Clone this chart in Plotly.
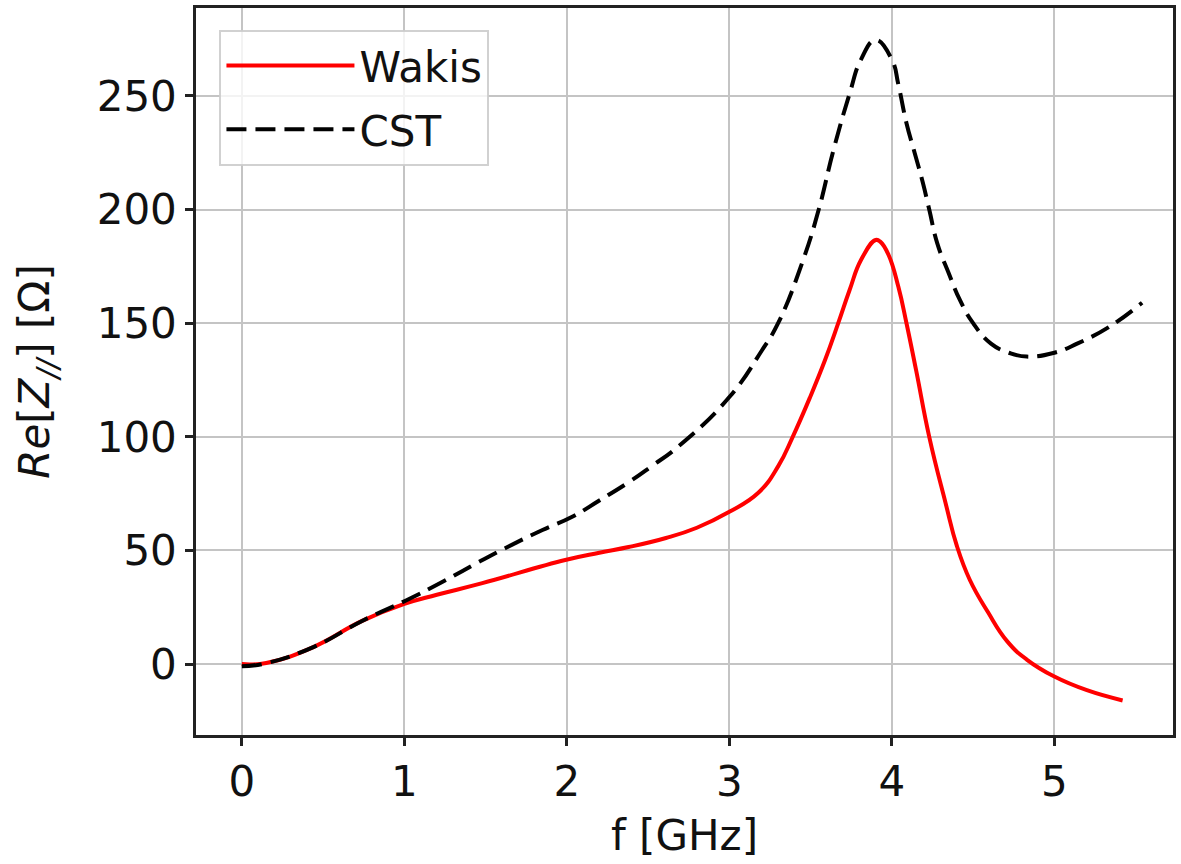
import plotly.graph_objects as go

# Frequency (GHz) and real part of the longitudinal impedance (Ohm)
f_wakis = [0.0, 0.15, 0.44, 0.74, 1.0, 1.2, 1.48, 1.99, 2.2, 2.38, 2.61, 2.8, 3.0,
           3.18, 3.3, 3.39, 3.5, 3.59, 3.67, 3.74, 3.81, 3.9, 3.93, 3.98, 4.04,
           4.09, 4.15, 4.23, 4.33, 4.4, 4.48, 4.59, 4.71, 4.83, 5.0, 5.2, 5.42]
z_wakis = [0, 0.5, 7.5, 19, 26.5, 30.5, 35.6, 45.8, 49, 51.5, 55.5, 60, 67,
           75.5, 87, 100, 118, 134, 150, 164.6, 177.8, 186.6, 185.8, 180, 166,
           150, 129, 100, 71, 52, 37, 23, 10, 2, -5.5, -11.5, -16]

f_cst = [0.0, 0.15, 0.44, 0.74, 1.01, 1.23, 1.46, 1.62, 1.85, 2.03, 2.2, 2.38,
         2.52, 2.69, 3.0, 3.2, 3.3, 3.45, 3.55, 3.64, 3.74, 3.81, 3.9, 4.0,
         4.04, 4.09, 4.14, 4.19, 4.23, 4.28, 4.35, 4.42, 4.5, 4.61, 4.72, 4.83,
         5.0, 5.14, 5.34, 5.54]
z_cst = [-1, 0.4, 7.5, 19, 28, 36, 45, 51, 59, 64.7, 72, 80,
         87, 96, 117.5, 138, 150, 177, 200, 226, 251, 266, 274.6, 266,
         255, 238, 225, 212, 200, 185, 172, 160, 150, 141, 137, 135.3,
         137, 141, 148.5, 159]

x_ticks = [0, 1, 2, 3, 4, 5]
y_ticks = [0, 50, 100, 150, 200, 250]

FONT = "DejaVu Sans"

fig = go.Figure()
fig.add_trace(go.Scatter(
    x=f_wakis, y=z_wakis, mode="lines", name="Wakis", legendgroup="wakis",
    line=dict(color="#ff0000", width=4, shape="spline", smoothing=1.3),
))
fig.add_trace(go.Scatter(
    x=f_cst, y=z_cst, mode="lines", name="CST", legendgroup="cst",
    line=dict(color="#000000", width=4, dash="20px,9px", shape="spline", smoothing=1.3),
))

axis_common = dict(
    showline=True, linecolor="#222222", linewidth=2.5, mirror=True,
    ticks="outside", ticklen=8, tickwidth=2.5, tickcolor="#222222",
    showgrid=True, gridcolor="#c4c4c4", gridwidth=2,
    zeroline=False,
    tickfont=dict(family=FONT, size=42, color="#111111"),
    title_font=dict(family=FONT, size=42, color="#111111"),
)

fig.update_xaxes(
    range=[-0.282, 5.73], tickvals=x_ticks, ticktext=[str(v) for v in x_ticks],
    title_text="f [GHz]", title_standoff=16, **axis_common,
)
fig.update_yaxes(
    range=[-31.2, 288.7], tickvals=y_ticks, ticktext=[str(v) for v in y_ticks],
    title_text="<i>Re</i>[<i>Z</i><sub><i>//</i></sub>] [Ω]", title_standoff=34,
    **axis_common,
)

fig.update_layout(
    width=1181, height=864,
    margin=dict(l=196, r=5, t=8, b=129),
    paper_bgcolor="white", plot_bgcolor="white",
    font=dict(family=FONT, size=42, color="#111111"),
    showlegend=True,
    legend=dict(
        x=0.024, y=0.97, xanchor="left", yanchor="top",
        bgcolor="rgba(255,255,255,0.8)", bordercolor="rgba(204,204,204,0.9)",
        borderwidth=2, font=dict(family=FONT, size=42, color="#111111"),
        itemwidth=128, tracegroupgap=6,
    ),
)

fig.write_html("out.html")
